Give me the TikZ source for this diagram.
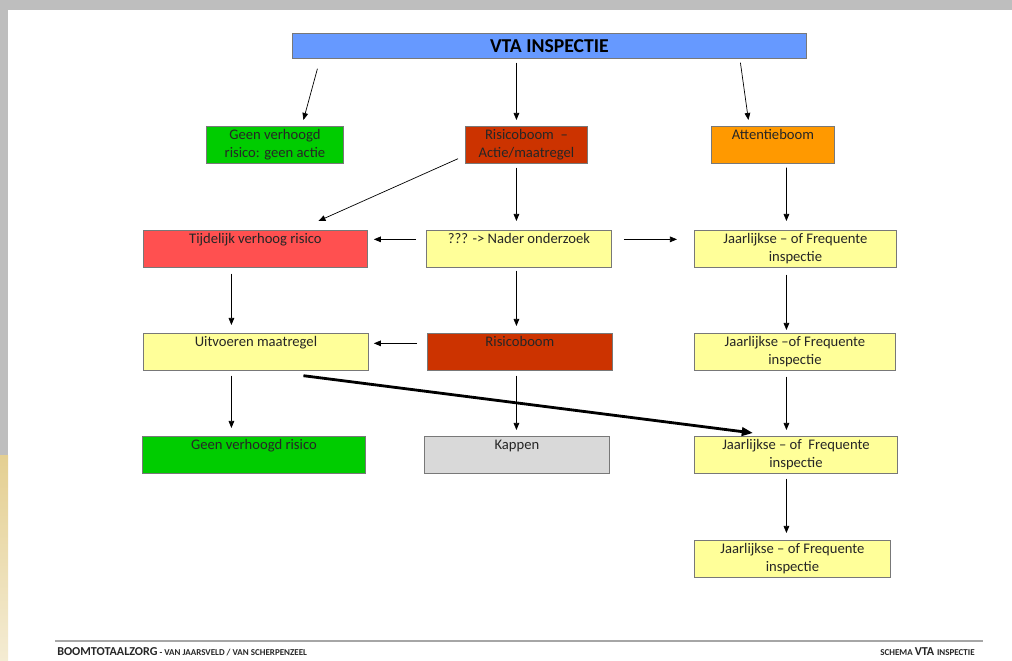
\documentclass[tikz,border=0pt]{standalone}
\usepackage{fontspec}
\setmainfont{Carlito}
\usetikzlibrary{arrows.meta,calc}
\definecolor{vtablue}{RGB}{102,153,255}
\definecolor{groen}{RGB}{0,204,0}
\definecolor{roodbruin}{RGB}{204,51,0}
\definecolor{oranje}{RGB}{255,153,0}
\definecolor{rood}{RGB}{255,80,80}
\definecolor{geel}{RGB}{255,255,153}
\definecolor{grijs}{RGB}{217,217,217}
\definecolor{randgrijs}{RGB}{120,120,120}
\definecolor{kadergrijs}{RGB}{190,190,190}
\definecolor{beige}{RGB}{228,207,145}
\newcommand{\pxw}[1]{#1*0.025cm}

\begin{document}
\begin{tikzpicture}[x=0.025cm, y=-0.025cm,
	box/.style={draw=randgrijs, line width=0.6pt, anchor=north west, align=center,
		inner xsep=2pt, inner ysep=2pt, minimum height=26.2pt,
		font=\fontsize{10.4}{12.6}\selectfont, text=black!85},
	oneline/.style={text height=7.4pt, text depth=14.8pt},
	pijl/.style={-{Triangle[length=5pt,width=4pt]}, line width=0.5pt},
	dikpijl/.style={-{Triangle[length=8pt,width=6pt]}, line width=2pt}]

	\useasboundingbox (0,0) rectangle (1012,660);

	% rand van de pagina
	\fill[kadergrijs] (0,0) rectangle (1012,10);
	\fill[kadergrijs] (0,0) rectangle (8,455);
	\shade[top color=beige, bottom color=beige!40] (0,455) rectangle (8,660);

	% kop
	\node[box, minimum width=\pxw{514}, minimum height=17.7pt, inner ysep=0pt,
		font=\fontsize{14}{16}\bfseries, text=black, fill=vtablue] (vta) at (292,33) {VTA INSPECTIE};

	% eerste rij
	\node[box, fill=groen, minimum width=\pxw{137}] (geenactie) at (206,126) {Geen verhoogd\\risico: geen actie};
	\node[box, fill=roodbruin, minimum width=\pxw{122}] (risact) at (465,126) {Risicoboom \ --\\Actie/maatregel};
	\node[box, oneline, fill=oranje, minimum width=\pxw{123}] (att) at (711,126) {Attentieboom};

	% tweede rij
	\node[box, oneline, fill=rood, minimum width=\pxw{224}] (tijd) at (143,230) {Tijdelijk verhoog risico};
	\node[box, oneline, fill=geel, minimum width=\pxw{185}] (nader) at (426,230) {??? -> Nader onderzoek};
	\node[box, fill=geel, minimum width=\pxw{202}] (jaar1) at (694,230) {Jaarlijkse -- of Frequente\\inspectie};

	% derde rij
	\node[box, oneline, fill=geel, minimum width=\pxw{225}] (uitv) at (143,333) {Uitvoeren maatregel};
	\node[box, oneline, fill=roodbruin, minimum width=\pxw{185}] (ris) at (427,333) {Risicoboom};
	\node[box, fill=geel, minimum width=\pxw{201}] (jaar2) at (694,333) {Jaarlijkse --of Frequente\\inspectie};

	% vierde rij
	\node[box, oneline, fill=groen, minimum width=\pxw{223}] (geen) at (142,436) {Geen verhoogd risico};
	\node[box, oneline, fill=grijs, minimum width=\pxw{185}] (kappen) at (424,436) {Kappen};
	\node[box, fill=geel, minimum width=\pxw{203}] (jaar3) at (694,436) {Jaarlijkse -- of \ Frequente\\inspectie};

	% laatste
	\node[box, fill=geel, minimum width=\pxw{196}] (jaar4) at (694,540) {Jaarlijkse -- of Frequente\\inspectie};

	% pijlen
	\draw[pijl] ($(vta.south)+(-232,10)$) -- ($(geenactie.north)+(28.5,-6)$);
	\draw[pijl] ($(vta.south)+(-33,4)$) -- ($(risact.north)+(-10,-6)$);
	\draw[pijl] ($(vta.south)+(191,4)$) -- ($(att.north)+(-24.5,-6)$);

	\draw[pijl] ($(risact.south west)+(-7,-5)$) -- ($(tijd.north)+(63,-9)$);
	\draw[pijl] ($(risact.south)+(-10,4)$) -- ($(nader.north)+(-2.5,-9)$);
	\draw[pijl] ($(att.south)+(13.5,4)$) -- ($(jaar1.north)+(-9,-9)$);

	\draw[pijl] ($(nader.west)+(-10,-9.5)$) -- ($(tijd.east)+(6,-9.5)$);
	\draw[pijl] ($(nader.east)+(12,-9.5)$) -- ($(jaar1.west)+(-17,-9.5)$);

	\draw[pijl] ($(tijd.south)+(-24,6)$) -- ($(uitv.north)+(-24.5,-8)$);
	\draw[pijl] ($(nader.south)+(-2.5,3)$) -- ($(ris.north)+(-3.5,-7)$);
	\draw[pijl] ($(jaar1.south)+(-9,7)$) -- ($(jaar2.north)+(-8.5,-3)$);

	\draw[pijl] ($(ris.west)+(-10,-8.5)$) -- ($(uitv.east)+(5,-8.5)$);

	\draw[pijl] ($(uitv.south)+(-24.5,5)$) -- ($(geen.north)+(-22.5,-8)$);
	\draw[pijl] ($(ris.south)+(-3.5,5)$) -- ($(kappen.north)+(-0.5,-6)$);
	\draw[pijl] ($(jaar2.south)+(-8.5,6)$) -- ($(jaar3.north)+(-9.5,-6)$);
	\draw[dikpijl] ($(uitv.south)+(47.5,5)$) -- ($(jaar3.north west)+(59,-3)$);

	\draw[pijl] ($(jaar3.south)+(-9.5,5)$) -- ($(jaar4.north)+(-6,-7)$);

	% voettekst
	\draw[gray!70, line width=1.4pt] (55,641) -- (983,641);
	\node[anchor=base west, inner sep=0pt, font=\bfseries, text=black!85] (links) at (57,655)
		{\fontsize{8.6}{10}\selectfont BOOMTOTAALZORG\fontsize{6.4}{8}\selectfont\ - VAN JAARSVELD / VAN SCHERPENZEEL};
	\node[anchor=base east, inner sep=0pt, font=\bfseries, text=black!85] (rechts) at (975,655)
		{\fontsize{6.4}{8}\selectfont SCHEMA \fontsize{8.6}{10}\selectfont VTA \fontsize{6.4}{8}\selectfont INSPECTIE};

\end{tikzpicture}
\end{document}
